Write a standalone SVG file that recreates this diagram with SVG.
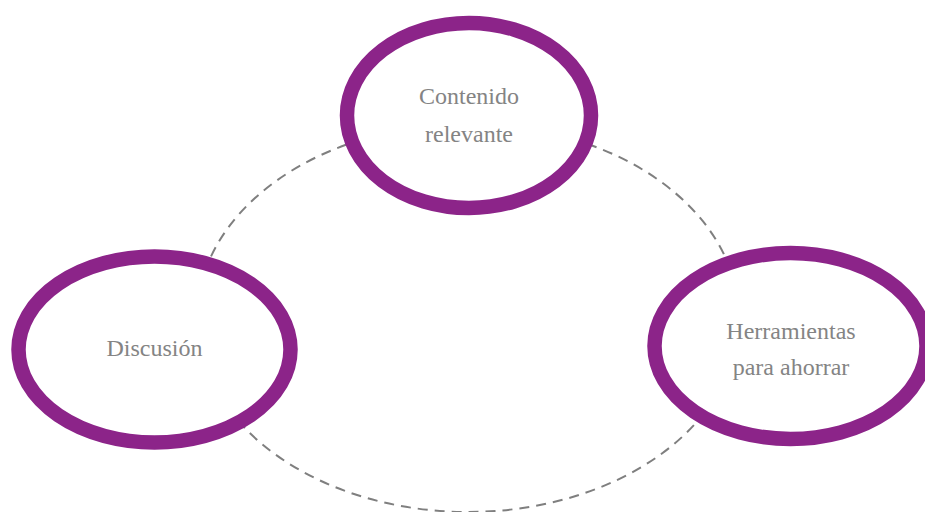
<svg xmlns="http://www.w3.org/2000/svg" width="925" height="512" viewBox="0 0 925 512">
<style>
.ring{fill:#ffffff;stroke:#8C2489;stroke-width:14.5}
.lbl{font-family:"Liberation Serif","Times New Roman",serif;font-size:24px;fill:#848484;text-anchor:middle}
.cyc{fill:none;stroke:#7f7f7f;stroke-width:2;stroke-dasharray:10 7}
</style>
<rect width="925" height="512" fill="#ffffff"/>
<g id="connectors">
<ellipse class="cyc" cx="468" cy="318" rx="271" ry="194"/>
</g>
<g id="node-contenido">
<ellipse class="ring" cx="469" cy="115.5" rx="122" ry="92.5"/>
<text class="lbl" x="469" y="104">Contenido</text>
<text class="lbl" x="469" y="142">relevante</text>
</g>
<g id="node-discusion">
<ellipse class="ring" cx="154.5" cy="349.5" rx="136" ry="93"/>
<text class="lbl" x="154.5" y="356">Discusión</text>
</g>
<g id="node-herramientas">
<ellipse class="ring" cx="790.5" cy="346" rx="136" ry="93"/>
<text class="lbl" x="791" y="339">Herramientas</text>
<text class="lbl" x="791" y="375">para ahorrar</text>
</g>
</svg>
